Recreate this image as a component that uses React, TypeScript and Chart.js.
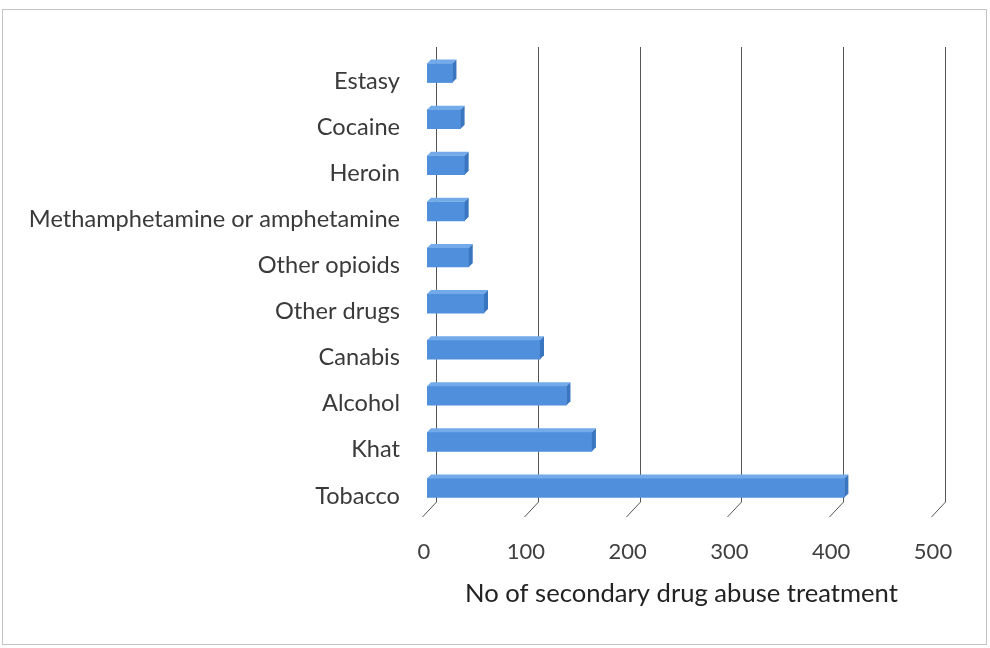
import React, { useEffect, useRef } from "react";
import { Chart, registerables } from "chart.js";

Chart.register(...registerables);

const categories = [
  "Estasy",
  "Cocaine",
  "Heroin",
  "Methamphetamine or amphetamine",
  "Other opioids",
  "Other drugs",
  "Canabis",
  "Alcohol",
  "Khat",
  "Tobacco",
];
const treatments = [25, 33, 37, 37, 41, 56, 111, 137, 162, 410];
const xTicks = [0, 100, 200, 300, 400, 500];
const axisTitle = "No of secondary drug abuse treatment";

const FONT = "Lato, 'Open Sans', sans-serif";

const backWall = {
  id: "backWall",
  beforeDatasetsDraw(chart: any) {
    const ctx = chart.ctx;
    const xs = chart.scales.x;
    const area = chart.chartArea;
    ctx.save();
    ctx.strokeStyle = "#555";
    ctx.lineWidth = 1;
    for (const v of xTicks) {
      const px = Math.round(xs.getPixelForValue(v)) + 9.5;
      ctx.beginPath();
      ctx.moveTo(px, area.top - 3);
      ctx.lineTo(px, area.bottom - 9);
      ctx.lineTo(px - 14, area.bottom + 6);
      ctx.stroke();
    }
    ctx.restore();
  },
  afterDatasetsDraw(chart: any) {
    const ctx = chart.ctx;
    const meta = chart.getDatasetMeta(0);
    const dx = 4;
    const dy = 4;
    ctx.save();
    for (const el of meta.data) {
      const { x, y, base, height } = el as any;
      const top = y - height / 2;
      const bot = y + height / 2;
      ctx.fillStyle = "#72aaea";
      ctx.beginPath();
      ctx.moveTo(base, top);
      ctx.lineTo(x, top);
      ctx.lineTo(x + dx, top - dy);
      ctx.lineTo(base + dx, top - dy);
      ctx.closePath();
      ctx.fill();
      ctx.fillStyle = "#3a76c0";
      ctx.beginPath();
      ctx.moveTo(x, top);
      ctx.lineTo(x + dx, top - dy);
      ctx.lineTo(x + dx, bot - dy);
      ctx.lineTo(x, bot);
      ctx.closePath();
      ctx.fill();
    }
    ctx.restore();
  },
};

export default function App() {
  const ref = useRef<HTMLCanvasElement>(null);
  useEffect(() => {
    if (!ref.current) return;
    const chart = new Chart(ref.current, {
      type: "bar",
      data: {
        labels: categories,
        datasets: [
          {
            data: treatments,
            backgroundColor: "#4f8fdc",
            borderWidth: 0,
            barThickness: 19,
          },
        ],
      },
      plugins: [backWall],
      options: {
        indexAxis: "y",
        animation: false,
        responsive: false,
        maintainAspectRatio: false,
        layout: { padding: { top: 50, right: 54, left: 0, bottom: 39 } },
        plugins: {
          legend: { display: false },
          tooltip: { enabled: false },
        },
        scales: {
          x: {
            min: 0,
            max: 500,
            afterBuildTicks: (s: any) => {
              s.ticks = xTicks.map((v) => ({ value: v }));
            },
            grid: { display: false },
            border: { display: false },
            ticks: {
              color: "#404040",
              font: { family: FONT, size: 22 },
              padding: 20,
              labelOffset: -3,
              maxRotation: 0,
            },
            title: {
              display: true,
              text: axisTitle,
              color: "#222",
              font: { family: FONT, size: 25.6 },
              padding: { top: 10, bottom: 0 },
            },
            afterFit: (s: any) => {
              s.height = 98;
            },
          },
          y: {
            grid: { display: false },
            border: { display: false },
            ticks: {
              color: "#3a3a3a",
              font: { family: FONT, size: 23.6 },
              padding: 19,
              labelOffset: 8,
            },
            afterFit: (s: any) => {
              s.width = 427;
            },
          },
        },
      },
    });
    return () => chart.destroy();
  }, []);
  return (
    <div style={{ position: "absolute", left: 0, top: 0, width: 990, height: 648, background: "#fff" }}>
      <div
        style={{
          position: "absolute",
          left: 2,
          top: 9,
          width: 985,
          height: 636,
          border: "1px solid #c4c4c4",
          boxSizing: "border-box",
        }}
      />
      <canvas ref={ref} width={990} height={648} style={{ position: "absolute", left: 0, top: 0 }} />
    </div>
  );
}
